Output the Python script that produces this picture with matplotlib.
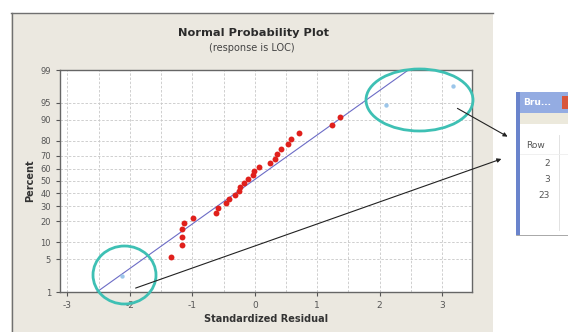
import math
from statistics import NormalDist
import numpy as np
import matplotlib
matplotlib.use("Agg")
import matplotlib.pyplot as plt
from matplotlib.patches import Rectangle, Ellipse, FancyArrowPatch
from matplotlib.ticker import FixedLocator, MultipleLocator

plt.rcParams["axes.unicode_minus"] = False

# residuals, sorted, with their percent positions
residual = [-2.13, -1.34, -1.16, -1.16, -1.16, -1.14, -0.99, -0.62, -0.59, -0.46,
            -0.42, -0.32, -0.26, -0.24, -0.17, -0.11, -0.03, -0.02, 0.06, 0.24,
            0.32, 0.35, 0.42, 0.53, 0.58, 0.71, 1.24, 1.36, 2.11, 3.17]
percent = [2.3, 5.6, 8.9, 12.2, 15.5, 18.8, 22.0, 25.3, 28.6, 31.9,
           35.2, 38.5, 41.8, 45.1, 48.4, 51.6, 54.9, 58.2, 61.5, 64.8,
           68.1, 71.4, 74.7, 78.0, 81.3, 84.5, 87.8, 91.1, 94.4, 97.7]
# brushed (highlighted) rows: index in the sorted list
brushed = [0, 28, 29]

# fitted normal line end points
fit_x = [-2.53, 2.46]
fit_pct = [1, 99]

y_ticks = [1, 5, 10, 20, 30, 40, 50, 60, 70, 80, 90, 95, 99]
x_ticks = [-3, -2, -1, 0, 1, 2, 3]
brush_rows = ["2", "3", "23"]

W, H = 568, 332


def fx(x):
    return x / W


def fy(y):
    return 1 - y / H


_nd = NormalDist()
_ppf = np.vectorize(lambda p: _nd.inv_cdf(min(max(p / 100.0, 1e-9), 1 - 1e-9)), otypes=[float])
_cdf = np.vectorize(lambda z: 50.0 * (1 + math.erf(z / math.sqrt(2))), otypes=[float])


def fwd(p):
    return _ppf(np.asarray(p, dtype=float))


def inv(z):
    return _cdf(np.asarray(z, dtype=float))


fig = plt.figure(figsize=(W / 100, H / 100), dpi=100)
fig.patch.set_facecolor("white")

# Minitab style grey panel
panel_c = "#ebe8e0"
fig.patches.append(Rectangle((fx(11), 0), (493 - 11) / W, fy(13), transform=fig.transFigure,
                             facecolor=panel_c, edgecolor="none", zorder=-2))
fig.lines.append(plt.Line2D([fx(11), fx(493)], [fy(13), fy(13)], transform=fig.transFigure,
                            color="#707070", lw=1.0, zorder=-1))
fig.lines.append(plt.Line2D([fx(11.5), fx(11.5)], [0, fy(13)], transform=fig.transFigure,
                            color="#707070", lw=1.0, zorder=-1))

ax = fig.add_axes([fx(60), fy(292), (472 - 60) / W, (292 - 70) / H])
ax.set_facecolor("white")
ax.set_yscale("function", functions=(fwd, inv))
ax.set_ylim(1, 99)
ax.set_xlim(-3.12, 3.48)

ax.yaxis.set_major_locator(FixedLocator(y_ticks))
ax.yaxis.set_minor_locator(FixedLocator([]))
ax.set_yticklabels([str(v) for v in y_ticks])
ax.xaxis.set_major_locator(FixedLocator(x_ticks))
ax.xaxis.set_minor_locator(MultipleLocator(0.5))
ax.tick_params(axis="both", which="major", labelsize=6, colors="#555555", length=3, width=0.8)
ax.tick_params(axis="x", which="major", labelsize=6.5)
ax.tick_params(axis="x", which="minor", length=0)
ax.grid(True, which="both", axis="x", color="#c8c8c8", ls=(0, (3, 2)), lw=0.6)
ax.grid(True, which="major", axis="y", color="#c8c8c8", ls=(0, (3, 2)), lw=0.6)
ax.set_axisbelow(True)
for s in ax.spines.values():
    s.set_color("#666666")
    s.set_linewidth(1.0)

# fitted line
ax.plot(fit_x, fit_pct, color="#6c6cc6", lw=0.8, zorder=2)

res = np.array(residual)
pct = np.array(percent)
mask = np.zeros(len(res), dtype=bool)
mask[brushed] = True
ax.scatter(res[~mask], pct[~mask], s=18, color="#e0201c", zorder=3, linewidths=0)
ax.scatter(res[mask], pct[mask], s=10, color="#9cc6ea", zorder=3, linewidths=0)

ax.set_xlabel("Standardized Residual", fontsize=7, fontweight="bold", color="#333333", labelpad=3)
ax.set_ylabel("Percent", fontsize=7, fontweight="bold", color="#333333", labelpad=4)

fig.text(fx(253), fy(33), "Normal Probability Plot", ha="center", va="center",
         fontsize=8.2, fontweight="bold", color="#2b2b2b")
fig.text(fx(252), fy(48), "(response is LOC)", ha="center", va="center",
         fontsize=7, color="#444444")

# circles around the brushed points
teal = "#3ec0b4"
for cx, cy, w, h in [(419.5, 100, 107, 62), (124.5, 275, 63, 58)]:
    fig.patches.append(Ellipse((fx(cx), fy(cy)), w / W, h / H, transform=fig.transFigure,
                               fill=False, edgecolor=teal, lw=2.0, zorder=6))

# arrows to the brushing window
for (x0, y0), (x1, y1) in [((455, 107), (510, 138)), ((133, 289), (504, 158))]:
    fig.add_artist(FancyArrowPatch(
        (fx(x0), fy(y0)), (fx(x1), fy(y1)), transform=fig.transFigure,
        arrowstyle="-|>", mutation_scale=6, color="#222222", lw=0.8, zorder=7))

# brushing window
fig.patches.append(Rectangle((fx(516), fy(235)), (568 - 516) / W, (235 - 92) / H,
                             transform=fig.transFigure, facecolor="white",
                             edgecolor="#9a9a9a", lw=0.6, zorder=4))
fig.patches.append(Rectangle((fx(516), fy(113)), (568 - 516) / W, (113 - 92) / H,
                             transform=fig.transFigure, facecolor="#94ace2",
                             edgecolor="none", zorder=5))
fig.patches.append(Rectangle((fx(516), fy(124)), (568 - 516) / W, (124 - 113) / H,
                             transform=fig.transFigure, facecolor="#ece9dc",
                             edgecolor="none", zorder=5))
fig.patches.append(Rectangle((fx(516), fy(235)), 4 / W, (235 - 92) / H,
                             transform=fig.transFigure, facecolor="#6a84cc",
                             edgecolor="none", zorder=5))
fig.patches.append(Rectangle((fx(562), fy(109)), 6 / W, 13 / H,
                             transform=fig.transFigure, facecolor="#d8563c",
                             edgecolor="none", zorder=5))
fig.text(fx(523), fy(102.5), "Bru...", ha="left", va="center", fontsize=6.5,
         fontweight="bold", color="white", zorder=6)
fig.lines.append(plt.Line2D([fx(559), fx(559)], [fy(135), fy(230)], transform=fig.transFigure,
                            color="#dddddd", lw=0.6, zorder=6))
fig.lines.append(plt.Line2D([fx(520), fx(568)], [fy(154), fy(154)], transform=fig.transFigure,
                            color="#eeeeee", lw=0.6, zorder=6))
fig.text(fx(526), fy(145), "Row", ha="left", va="center", fontsize=6.5, color="#555555", zorder=6)
for i, r in enumerate(brush_rows):
    fig.text(fx(550), fy(163 + i * 16.5), r, ha="right", va="center", fontsize=6.5,
             color="#555555", zorder=6)

fig.savefig("out.png", dpi=100, facecolor="white")
